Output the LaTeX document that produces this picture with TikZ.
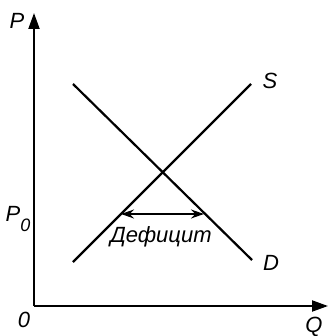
\documentclass[tikz,border=0pt]{standalone}
\usepackage{fontspec}
\setmainfont{Liberation Sans}
\usetikzlibrary{positioning, arrows.meta, calc}
\tikzset{
  axis/.style={-{Triangle[length=16pt, width=11pt]}, line width=2pt},
  curve/.style={line width=2.2pt},
  gap/.style={{Stealth[length=13pt, width=9pt]}-{Stealth[length=13pt, width=9pt]}, line width=1.3pt},
  lbl/.style={font=\fontsize{22}{24}\selectfont\itshape, inner sep=0pt}
}

\begin{document}
\begin{tikzpicture}[x=1pt, y=-1pt]
  \useasboundingbox (0,0) rectangle (328,336);
  \coordinate (o) at (34,306);
  \coordinate (ptop) at (34,13);
  \coordinate (qend) at (328,306);
  \draw[axis] (o) -- (ptop);
  \draw[axis] (o) -- (qend);
  % supply and demand
  \coordinate (s0) at (73,262);
  \coordinate (s1) at (251,84);
  \coordinate (d0) at (73,84);
  \coordinate (d1) at (252,260);
  \draw[curve] (s0) -- (s1);
  \draw[curve] (d0) -- (d1);
  % shortage at P0
  \coordinate (gl) at (121,214);
  \coordinate (gr) at (204,214);
  \draw[gap] (gl) -- (gr);
  \node[lbl] (plab) at (17,21) {P};
  \node[lbl] (p0) at (18,219) {P\raisebox{-0.45em}{\fontsize{18}{20}\selectfont 0}};
  \node[lbl] (olab) at (24,320) {0};
  \node[lbl] (qlab) at (314,327) {Q};
  \node[lbl] (slab) at (270,81) {S};
  \node[lbl] (dlab) at (271,263) {D};
  \node[lbl] (def) at (161,237) {Дефицит};
\end{tikzpicture}
\end{document}
